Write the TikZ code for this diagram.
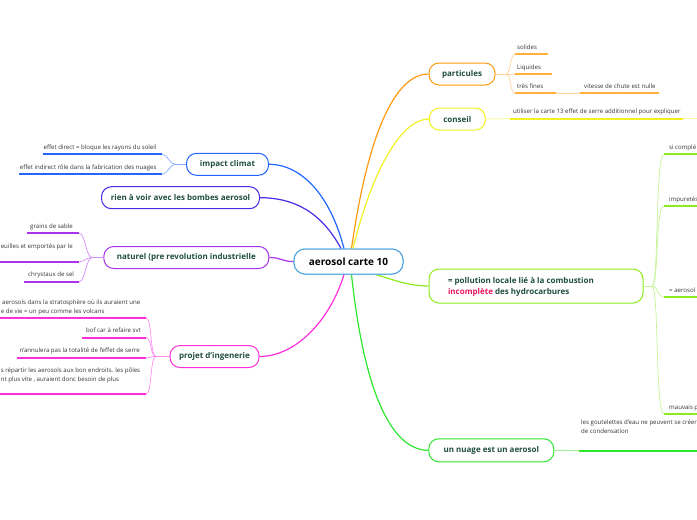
\documentclass[tikz,border=0pt]{standalone}
\usepackage{fontspec}
\setmainfont{Open Sans}
\definecolor{hubc}{HTML}{4DA3E0}
\definecolor{corange}{HTML}{FF9A10}
\definecolor{corangeL}{HTML}{FFB13B}
\definecolor{corangeS}{HTML}{FFD39A}
\definecolor{cyellow}{HTML}{F2F222}
\definecolor{cyellowS}{HTML}{F8F8A8}
\definecolor{clime}{HTML}{8CEB1E}
\definecolor{climeS}{HTML}{C4F494}
\definecolor{cgreen}{HTML}{2EE62E}
\definecolor{cgreenS}{HTML}{A0F0A0}
\definecolor{cblue}{HTML}{2266FF}
\definecolor{cblueS}{HTML}{88AAFF}
\definecolor{cviolet}{HTML}{4A2BE8}
\definecolor{cpurple}{HTML}{AA33EE}
\definecolor{cpurpleS}{HTML}{D48CF6}
\definecolor{cmagenta}{HTML}{FF2EDD}
\definecolor{cmagentaS}{HTML}{FF8CEE}
\definecolor{tgreen}{HTML}{1F4E3D}
\definecolor{cpink}{HTML}{E8175D}
\definecolor{tgray}{HTML}{333333}
\begin{document}
\begin{tikzpicture}[x=1pt,y=1pt,
  hub/.style={draw=hubc, line width=1pt, rounded corners=11pt, fill=white, minimum height=25pt, inner sep=0pt, font=\fontsize{10}{12}\selectfont\bfseries, text=black},
  br/.style={draw=#1, line width=1pt, rounded corners=10pt, fill=white, minimum height=22pt, inner sep=0pt, font=\fontsize{8}{10}\selectfont\bfseries, text=tgreen},
  lf/.style={font=\fontsize{6.1}{8.7}\selectfont, text=tgray, inner sep=0pt},
  ul/.style={line width=1.8pt, draw=#1},
  mainc/.style={line width=1.2pt, draw=#1},
  subc/.style={line width=0.7pt, draw=#1}]
\useasboundingbox (0,0) rectangle (697,-520);
\clip (0,0) rectangle (697,-520);

\coordinate (c0) at (348.5,-261.5);
% nodes
\node[hub, minimum width=109pt] (c) at (348.5,-261.5) {};
\node[br=corange, minimum width=66pt] (part) at (462,-74) {particules};
\node[br=cyellow, minimum width=56pt] (cons) at (457.3,-119) {conseil};
\node[br=clime, minimum width=214pt, minimum height=34pt] (poll) at (536,-286) {};
\node[br=cgreen, minimum width=125pt, minimum height=23pt] (nuage) at (491.3,-450.3) {un nuage est un aerosol};
\node[br=cblue, minimum width=82pt] (imp) at (227.5,-164.3) {impact climat};
\node[br=cviolet, minimum width=158pt] (rien) at (180.5,-197.7) {rien à voir avec les bombes aerosol};
\node[br=cpurple, minimum width=165pt] (nat) at (186.3,-257.5) {naturel (pre revolution industrielle};
\node[br=cmagenta, minimum width=89pt] (proj) at (214.5,-356.5) {projet d'ingenerie};

% main connectors
\draw[mainc=corange] ([xshift=3pt]c.north) .. controls +(18.5,129) and +(-29,0) .. (part.west);
\draw[mainc=cyellow] ([xshift=4.5pt]c.north) .. controls +(22,89) and +(-24,0) .. (cons.west);
\draw[mainc=clime] ([xshift=-28pt]c.south east) .. controls +(20,-6) and +(-19,0) .. (poll.west);
\draw[mainc=cgreen] ([xshift=3pt]c.south) .. controls +(13.5,-126) and +(-34,0) .. (nuage.west);
\draw[mainc=cblue] ([xshift=-4.5pt]c.north) .. controls +(-14,54) and +(32,0) .. (imp.east);
\draw[mainc=cviolet] ([xshift=-7.5pt]c.north) .. controls +(-21,39) and +(31,0) .. (rien.east);
\draw[mainc=cpurple] (c.west) .. controls +(-12,0) and +(12,0) .. (nat.east);
\draw[mainc=cmagenta] ([xshift=-4.5pt]c.south) .. controls +(-14,-46) and +(36,0) .. (proj.east);

% hub on top
\node[hub, minimum width=109pt] (hub) at (c0) {aerosol carte 10};

% pollution text
\node[font=\fontsize{8}{11}\selectfont\bfseries, text=tgreen, align=left, anchor=west, inner sep=0pt] (pollt) at (447.8,-286.5) {= pollution locale lié à la combustion\\\textcolor{cpink}{incomplète} des hydrocarbures};

% ---------- particules ----------
\coordinate (pj) at (506,-74);
\coordinate (s1a) at (515,-54);   \coordinate (s1b) at (548,-54);
\coordinate (s2a) at (515,-74);   \coordinate (s2b) at (552,-74);
\coordinate (s3a) at (515,-93.3); \coordinate (s3b) at (556,-93.3);
\coordinate (s4a) at (580,-93.3); \coordinate (s4b) at (659,-93.3);
\draw[subc=corangeS] (part.east) -- (pj);
\draw[subc=corangeS] (pj) .. controls +(5,0) and +(-5,0) .. (s1a);
\draw[subc=corangeS] (pj) -- (s2a);
\draw[subc=corangeS] (pj) .. controls +(5,0) and +(-5,0) .. (s3a);
\draw[subc=corangeS, line width=1.2pt] (s3b) -- (s4a);
\draw[ul=corangeL] (s1a) -- (s1b);
\draw[ul=corangeL] (s2a) -- (s2b);
\draw[ul=corangeL] (s3a) -- (s3b);
\draw[ul=corangeL] (s4a) -- (s4b);
\node[lf, anchor=base west] (l1) at (517,-49) {solides};
\node[lf, anchor=base west] (l2) at (517,-69) {Liquides};
\node[lf, anchor=base west] (l3) at (517,-88.5) {très fines};
\node[lf, anchor=base west] (l4) at (584,-88.5) {vitesse de chute est nulle};

% ---------- conseil ----------
\coordinate (ca) at (510,-118.7); \coordinate (cb) at (683,-118.7); \coordinate (cc) at (697,-118.7);
\draw[subc=cyellowS, line width=1pt] (cons.east) -- (ca);
\draw[ul=cyellow] (ca) -- (cb);
\draw[subc=cyellowS, line width=1.2pt] (cb) -- (cc);
\node[lf, anchor=base west] (l5) at (513,-113.5) {utiliser la carte 13 effet de serre additionnel pour expliquer};

% ---------- pollution ----------
\coordinate (qj) at (652,-286);
\coordinate (p1a) at (664,-154.3); \coordinate (p1b) at (697,-154.3);
\coordinate (p2a) at (664,-205.7); \coordinate (p2b) at (697,-205.7);
\coordinate (p3a) at (664,-297.3); \coordinate (p3b) at (697,-297.3);
\coordinate (p4a) at (664,-414);   \coordinate (p4b) at (697,-414);
\draw[subc=climeS] (poll.east) -- (qj);
\foreach \p in {p1a,p2a,p4a}{\draw[subc=climeS] (qj) .. controls +(7,0) and +(-9,0) .. (\p);}
\draw[subc=climeS] (qj) .. controls +(6,0) and +(-6,0) .. (p3a);
\draw[ul=clime] (p1a) -- (p1b);
\draw[ul=clime] (p2a) -- (p2b);
\draw[ul=clime] (p3a) -- (p3b);
\draw[ul=clime] (p4a) -- (p4b);
\node[lf, anchor=base west] (l6) at (669,-149.5) {si complé};
\node[lf, anchor=base west] (l7) at (669,-201) {impuretés};
\node[lf, anchor=base west] (l8) at (669,-292.5) {= aerosol};
\node[lf, anchor=base west] (l9) at (669,-409) {mauvais p};

% ---------- nuage ----------
\coordinate (na) at (579,-450.7); \coordinate (nb) at (697,-450.7);
\draw[subc=cgreenS, line width=1pt] (nuage.east) -- (na);
\draw[ul=cgreen] (na) -- (nb);
\node[lf, anchor=base west, align=left] (l10) at (581,-433.5) {les goutelettes d'eau ne peuvent se créer\\de condensation};

% ---------- impact climat ----------
\coordinate (ij) at (175,-164.3);
\coordinate (i1a) at (42.7,-154.3); \coordinate (i1b) at (162.3,-154.3);
\coordinate (i2a) at (19,-174.3);   \coordinate (i2b) at (162.3,-174.3);
\draw[subc=cblueS] (imp.west) -- (ij);
\draw[subc=cblueS] (ij) .. controls +(-5,0) and +(5,0) .. (i1b);
\draw[subc=cblueS] (ij) .. controls +(-5,0) and +(5,0) .. (i2b);
\draw[ul=cblue] (i1a) -- (i1b);
\draw[ul=cblue] (i2a) -- (i2b);
\node[lf, anchor=base east] (l11) at (156.7,-149.5) {effet direct = bloque les rayons du soleil};
\node[lf, anchor=base east] (l12) at (156.7,-169.5) {effet indirect rôle dans la fabrication des nuages};

% ---------- naturel ----------
\coordinate (nj) at (92,-257.5);
\coordinate (n1a) at (26.7,-233.3); \coordinate (n1b) at (79.3,-233.3);
\coordinate (n2a) at (0,-261.7);    \coordinate (n2b) at (79.3,-261.7);
\coordinate (n3a) at (24.3,-281.7); \coordinate (n3b) at (79.3,-281.7);
\draw[subc=cpurpleS] (nat.west) -- (nj);
\draw[subc=cpurpleS] (nj) .. controls +(-6,0) and +(6,0) .. (n1b);
\draw[subc=cpurpleS] (nj) .. controls +(-6,0) and +(6,0) .. (n2b);
\draw[subc=cpurpleS] (nj) .. controls +(-6,0) and +(6,0) .. (n3b);
\draw[ul=cpurple] (n1a) -- (n1b);
\draw[ul=cpurple] (n2a) -- (n2b);
\draw[ul=cpurple] (n3a) -- (n3b);
\node[lf, anchor=base west] (l13) at (30,-228.5) {grains de sable};
\node[lf, anchor=base west] (l14) at (0.6,-248) {euilles et emportés par le};
\node[lf, anchor=base west] (l15) at (28,-276.5) {chrystaux de sel};

% ---------- projet ----------
\coordinate (rj) at (156,-356.5);
\coordinate (r1a) at (0,-317.7);    \coordinate (r1b) at (146,-317.7);
\coordinate (r2a) at (82,-337.7);   \coordinate (r2b) at (146,-337.7);
\coordinate (r3a) at (17.3,-357.7); \coordinate (r3b) at (146,-357.7);
\coordinate (r4a) at (0,-394.3);    \coordinate (r4b) at (146,-394.3);
\draw[subc=cmagentaS] (proj.west) -- (rj);
\foreach \p in {r1b,r2b,r3b,r4b}{\draw[subc=cmagentaS] (rj) .. controls +(-6,0) and +(6,0) .. (\p);}
\draw[ul=cmagenta] (r1a) -- (r1b);
\draw[ul=cmagenta] (r2a) -- (r2b);
\draw[ul=cmagenta] (r3a) -- (r3b);
\draw[ul=cmagenta] (r4a) -- (r4b);
\node[lf, anchor=base west] (l16) at (2,-304) {aerosols dans la stratosphère où ils auraient une};
\node[lf, anchor=base west] (l17) at (0.6,-313) {e de vie = un peu comme les volcans};
\node[lf, anchor=base east] (l18) at (141,-332.5) {bof car à refaire svt};
\node[lf, anchor=base east] (l19) at (140,-352.5) {n'annulera pas la totalité de l'effet de serre};
\node[lf, anchor=base west] (l20) at (0.6,-372) {s répartir les aerosols aux bon endroits. les pôles};
\node[lf, anchor=base west] (l21) at (0.6,-381) {nt plus vite , auraient donc besoin de plus};
\end{tikzpicture}
\end{document}
